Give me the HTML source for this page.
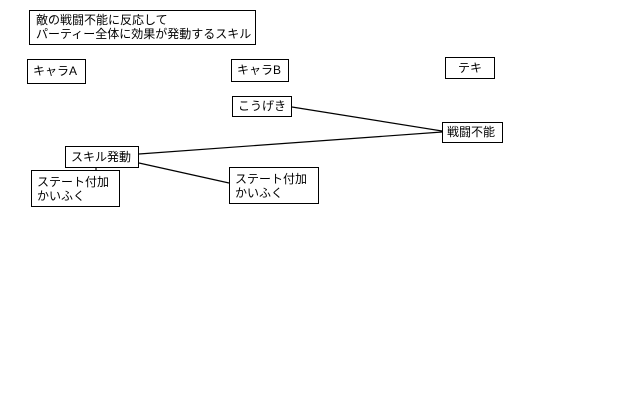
<!DOCTYPE html>
<html><head><meta charset="utf-8"><style>
body{margin:0;width:640px;height:401px;background:#fff;position:relative;overflow:hidden;font-family:"Liberation Sans","Noto Sans CJK JP",sans-serif;font-size:12px;color:#000}
.b{position:absolute;border:1px solid #000;background:#fff;box-sizing:border-box;line-height:14px;padding:2px 5px;white-space:nowrap}
</style></head><body>
<svg width="640" height="401" style="position:absolute;left:0;top:0">
<g stroke="#000" stroke-width="1.2" fill="none">
<line x1="292" y1="107" x2="442" y2="131"/>
<line x1="139" y1="154" x2="442" y2="132"/>
<line x1="139" y1="163" x2="229" y2="183"/>
<line x1="96" y1="167" x2="96" y2="172"/>
</g></svg>
<div class="b" style="left:29px;top:10px;width:227px;height:35px;padding:2px 6px">敵の戦闘不能に反応して<br>パーティー全体に効果が発動するスキル</div>
<div class="b" style="left:27px;top:59px;width:59px;height:25px;padding-top:4px">キャラA</div>
<div class="b" style="left:231px;top:59px;width:58px;height:23px;padding-top:3px">キャラB</div>
<div class="b" style="left:445px;top:57px;width:50px;height:22px;padding-top:3px;text-align:center">テキ</div>
<div class="b" style="left:232px;top:96px;width:60px;height:21px;padding-top:2px">こうげき</div>
<div class="b" style="left:442px;top:122px;width:61px;height:21px;padding:2px 4px">戦闘不能</div>
<div class="b" style="left:65px;top:146px;width:74px;height:22px;padding-top:3px">スキル発動</div>
<div class="b" style="left:31px;top:170px;width:89px;height:37px;padding-top:4px">ステート付加<br>かいふく</div>
<div class="b" style="left:229px;top:167px;width:90px;height:37px;padding-top:4px">ステート付加<br>かいふく</div>
</body></html>
